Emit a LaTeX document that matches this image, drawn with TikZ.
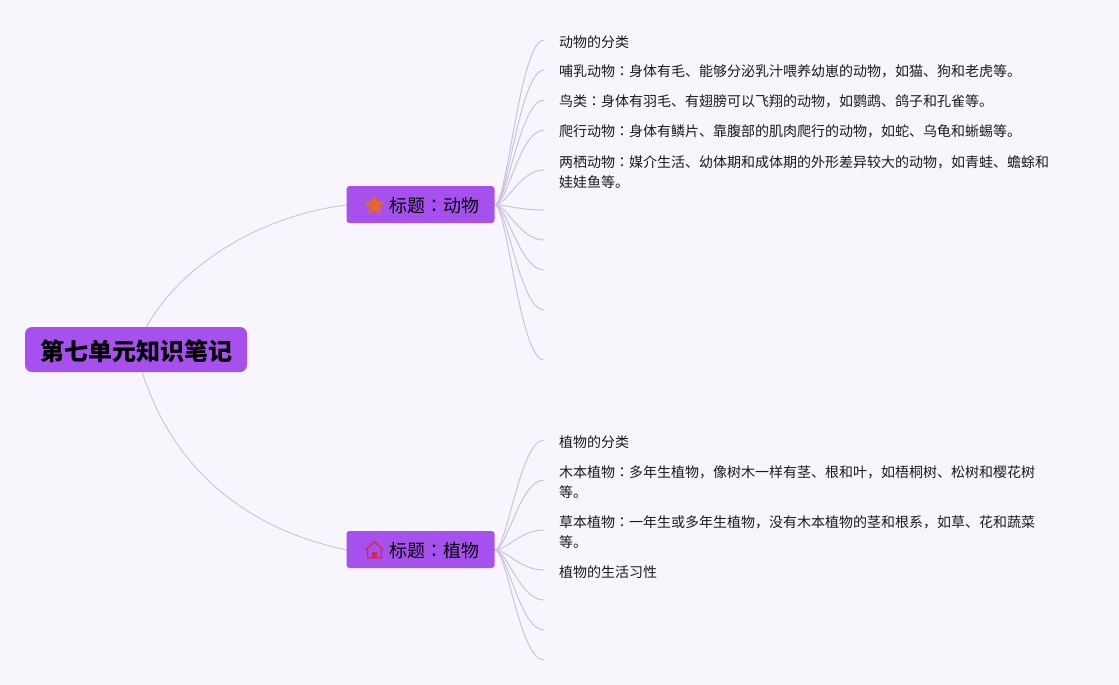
\documentclass[tikz,border=0pt]{standalone}
\usepackage{fontspec}
\setmainfont{Noto Sans CJK SC}
\newfontfamily\jpf{Noto Sans CJK JP}
\usetikzlibrary{shapes.geometric}
\newcommand{\cln}{{\jpf ：}}
\newcommand{\dropby}[2]{\raisebox{-#1}[\height][\depth]{#2}}
\definecolor{bgc}{HTML}{F8F5FD}
\definecolor{nodec}{HTML}{A650EE}
\definecolor{linec}{HTML}{CCC2E0}
\definecolor{starc}{HTML}{E2682F}
\definecolor{housec}{HTML}{D9254F}
\definecolor{txtc}{HTML}{1A1A1A}
\tikzset{
  x=1pt,y=-1pt,
  rootbox/.style={fill=nodec,rounded corners=7pt,minimum width=222pt,minimum height=45pt,inner sep=0pt,font=\fontsize{24}{28}\selectfont\bfseries,text=black},
  titlebox/.style={fill=nodec,rounded corners=3pt,minimum width=148pt,minimum height=37pt,inner sep=0pt,font=\fontsize{18}{22}\selectfont,text=black},
  itembox/.style={anchor=west,inner xsep=15pt,inner ysep=0pt,yshift=-1.7pt,align=left,font=\fontsize{14}{20}\selectfont,text=txtc},
  mainlink/.style={draw=linec,line width=0.9pt},
  leaflink/.style={draw=linec,line width=1pt},
  staricon/.style={star,star points=5,star point ratio=2.1,fill=starc,draw=starc,line join=round,line width=1.5pt,minimum size=19pt,inner sep=0pt},
}
\begin{document}
\begin{tikzpicture}
\useasboundingbox[fill=bgc] (0,0) rectangle (1119,685);
\coordinate (rc) at (136,350);
\coordinate (b1w) at (347,205);
\coordinate (b2w) at (347,550);
\coordinate (o1) at (495,205);
\coordinate (o2) at (495,550);
\draw[mainlink] (rc) .. controls (165,270) and (260,215) .. (b1w);
\draw[mainlink] (rc) .. controls (165,470) and (250,530) .. (b2w);

\node[itembox] (a1) at (544,40) {动物的分类};
\node[itembox] (a2) at (544,70) {哺乳动物\cln 身体有毛、能够分泌乳汁喂养幼崽的动物，如猫、狗和老虎等。};
\node[itembox] (a3) at (544,100) {鸟类\cln 身体有羽毛、有翅膀可以飞翔的动物，如鹦鹉、鸽子和孔雀等。};
\node[itembox] (a4) at (544,130) {爬行动物\cln 身体有鳞片、靠腹部的肌肉爬行的动物，如蛇、乌龟和蜥蜴等。};
\node[itembox] (a5) at (544,170) {两栖动物\cln 媒介生活、幼体期和成体期的外形差异较大的动物，如青蛙、蟾蜍和\\娃娃鱼等。};
\coordinate (a6) at (544,210);
\coordinate (a7) at (544,240);
\coordinate (a8) at (544,270);
\coordinate (a9) at (544,310);
\coordinate (a10) at (544,360);

\node[itembox] (p1) at (544,440) {植物的分类};
\node[itembox] (p2) at (544,480) {木本植物\cln 多年生植物，像树木一样有茎、根和叶，如梧桐树、松树和樱花树\\等。};
\node[itembox] (p3) at (544,530) {草本植物\cln 一年生或多年生植物，没有木本植物的茎和根系，如草、花和蔬菜\\等。};
\node[itembox] (p4) at (544,570) {植物的生活习性};
\coordinate (p5) at (544,600);
\coordinate (p6) at (544,630);
\coordinate (p7) at (544,660);

\foreach \e in {a1,a2,a3,a4,a5}
  \draw[leaflink] (o1) .. controls +(12,0) and +(-24,0) .. ([yshift=1.7pt]\e.west);
\foreach \e in {a6,a7,a8,a9,a10}
  \draw[leaflink] (o1) .. controls +(12,0) and +(-24,0) .. (\e);
\foreach \e in {p1,p2,p3,p4}
  \draw[leaflink] (o2) .. controls +(12,0) and +(-24,0) .. ([yshift=1.7pt]\e.west);
\foreach \e in {p5,p6,p7}
  \draw[leaflink] (o2) .. controls +(12,0) and +(-24,0) .. (\e);

\node[rootbox] (root) at (136,349.5) {\dropby{1.7pt}{第七单元知识笔记}};
\node[titlebox] (b1) at (420.5,204.5) {\dropby{1.4pt}{\hspace{27pt}标题\cln 动物}};
\node[titlebox] (b2) at (420.5,549.5) {\dropby{1.4pt}{\hspace{27pt}标题\cln 植物}};
\node[staricon] (s1) at (374.5,205.5) {};
\draw[housec,line width=1.3pt,line join=round] (365.5,550) -- (374.5,541.5) -- (383.5,550) (367.5,548.5) -- (367.5,558) -- (381.5,558) -- (381.5,548.5);
\fill[housec] (372,552) rectangle (377,558);
\end{tikzpicture}
\end{document}
